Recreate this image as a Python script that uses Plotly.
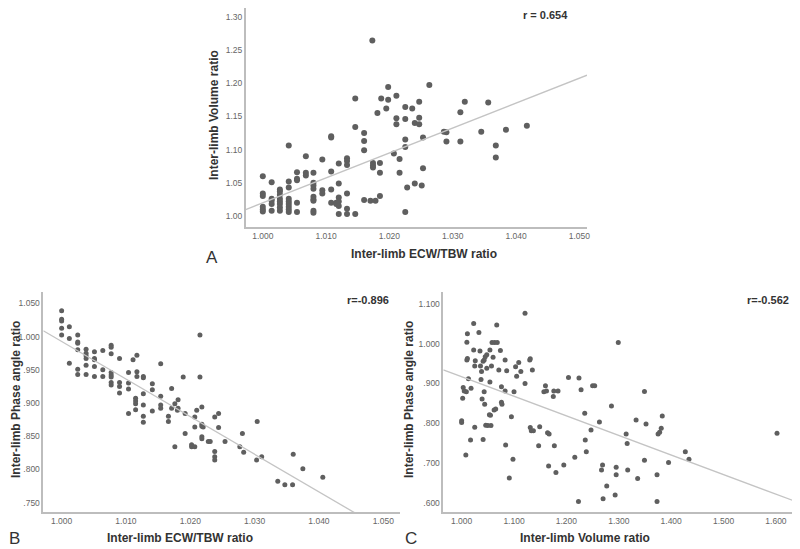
import numpy as np
import plotly.graph_objects as go

# Panel A: Inter-limb ECW/TBW ratio vs Inter-limb Volume ratio
a_ecw = [1.000, 1.000, 1.000, 1.000, 1.000, 1.000,
         1.0014, 1.0014, 1.0014, 1.0014, 1.0014,
         1.0027, 1.0027, 1.0027, 1.0027, 1.0027, 1.0027, 1.0027, 1.0027,
         1.0041, 1.0041, 1.0041, 1.0041, 1.0041, 1.0041, 1.0041, 1.0041, 1.0041,
         1.0054, 1.0054, 1.0054, 1.0054, 1.0054,
         1.0068, 1.0068, 1.0068,
         1.008, 1.008, 1.008, 1.008, 1.008, 1.008, 1.008, 1.008, 1.008,
         1.0094, 1.0094, 1.0094,
         1.0108, 1.0108, 1.0108, 1.0108, 1.0108,
         1.0116, 1.0116,
         1.012, 1.012, 1.012, 1.012, 1.012, 1.012,
         1.0133, 1.0133, 1.0133, 1.0133, 1.0133, 1.0133,
         1.0146, 1.0146, 1.0146,
         1.016, 1.016, 1.016, 1.016,
         1.017, 1.0174, 1.0174, 1.0174, 1.0173,
         1.0178, 1.0181, 1.0185, 1.0185, 1.0185, 1.0187,
         1.0195, 1.0198, 1.0198, 1.0207, 1.0211, 1.0211, 1.0211,
         1.0216, 1.0216, 1.0225, 1.0225, 1.0225, 1.0225, 1.0225, 1.0228,
         1.0236, 1.024, 1.024, 1.0247, 1.0247, 1.0247, 1.0251, 1.0253, 1.0253,
         1.0263, 1.0286, 1.029, 1.029, 1.0312, 1.0312, 1.0319, 1.0345,
         1.0356, 1.0368, 1.0368, 1.0384, 1.0417]
a_vol = [1.060, 1.034, 1.030, 1.014, 1.010, 1.007,
         1.051, 1.026, 1.023, 1.018, 1.008,
         1.040, 1.037, 1.032, 1.026, 1.022, 1.018, 1.013, 1.008,
         1.106, 1.052, 1.043, 1.026, 1.022, 1.018, 1.014, 1.010, 1.006,
         1.066, 1.056, 1.054, 1.020, 1.006,
         1.090, 1.065, 1.061,
         1.065, 1.050, 1.046, 1.041, 1.029, 1.025, 1.023, 1.008, 1.005,
         1.085, 1.039, 1.034,
         1.120, 1.118, 1.067, 1.040, 1.020,
         1.020, 1.018,
         1.079, 1.049, 1.028, 1.022, 1.015, 1.003,
         1.087, 1.083, 1.077, 1.034, 1.011, 1.003,
         1.177, 1.134, 1.003,
         1.125, 1.113, 1.099, 1.024,
         1.023, 1.080, 1.076, 1.073, 1.264,
         1.023, 1.155, 1.080, 1.065, 1.030, 1.177,
         1.162, 1.194, 1.175, 1.094, 1.181, 1.138, 1.147,
         1.086, 1.065, 1.164, 1.146, 1.115, 1.104, 1.006, 1.043,
         1.162, 1.140, 1.049, 1.172, 1.148, 1.138, 1.046, 1.118, 1.072,
         1.197, 1.127, 1.126, 1.112, 1.156, 1.112, 1.172, 1.127,
         1.171, 1.106, 1.088, 1.130, 1.136]

# Panel B: Inter-limb ECW/TBW ratio vs Inter-limb Phase angle ratio
b_ecw = [1.000, 1.000, 1.000, 1.000, 1.000,
         1.0012, 1.0012, 1.0012,
         1.0025, 1.0025, 1.0025, 1.0025, 1.0025, 1.0025,
         1.0038, 1.0038, 1.0038, 1.0038, 1.0038, 1.0038,
         1.0051, 1.0051, 1.0051, 1.0051, 1.0051,
         1.0064, 1.0064, 1.0064,
         1.0077, 1.0077, 1.0077, 1.0077, 1.0077, 1.0077, 1.0077, 1.0077,
         1.009, 1.009, 1.009, 1.009,
         1.0104, 1.0104, 1.0104, 1.0104, 1.0111,
         1.0115, 1.0115, 1.0115, 1.0115,
         1.0117, 1.0117, 1.0117,
         1.0127, 1.0127, 1.0127, 1.0127, 1.0127, 1.0127,
         1.0141, 1.0141, 1.0141,
         1.0154, 1.0154, 1.0154, 1.0154,
         1.0166, 1.0166, 1.0171, 1.0171, 1.0176, 1.0176,
         1.018, 1.0181, 1.0181, 1.0189, 1.0192, 1.0192,
         1.0202, 1.0202, 1.0207, 1.0207, 1.0207, 1.021,
         1.0215, 1.0215, 1.0218, 1.0218, 1.0218, 1.0218, 1.0218,
         1.022, 1.0228, 1.0231, 1.0238, 1.0238, 1.0238, 1.0238,
         1.0244, 1.0244, 1.0254, 1.0277, 1.0281, 1.0283, 1.0303, 1.0304,
         1.0311, 1.0336, 1.0347, 1.0359, 1.036, 1.0375, 1.0406]
b_pha = [1.039, 1.026, 1.0235, 1.0125, 1.0025,
         1.015, 0.997, 0.960,
         1.0025, 0.992, 0.990, 0.980, 0.951, 0.943,
         0.981, 0.975, 0.971, 0.967, 0.957, 0.943,
         0.977, 0.967, 0.965, 0.955, 0.940,
         0.979, 0.950, 0.940,
         0.987, 0.984, 0.974, 0.946, 0.942, 0.939, 0.931, 0.927,
         0.967, 0.931, 0.925, 0.915,
         0.946, 0.921, 0.930, 0.884, 0.965,
         0.907, 0.903, 0.899, 0.890,
         0.972, 0.947, 0.940,
         0.940, 0.938, 0.914, 0.897, 0.880, 0.871,
         0.929, 0.920, 0.888,
         0.959, 0.910, 0.897, 0.892,
         0.880, 0.872, 0.922, 0.892, 0.899, 0.834,
         0.889, 0.905, 0.892, 0.939, 0.884, 0.854,
         0.837, 0.834, 0.879, 0.864, 0.834, 0.889,
         1.0025, 0.939, 0.894, 0.868, 0.865, 0.849, 0.846,
         0.864, 0.842, 0.842, 0.879, 0.827, 0.819, 0.814,
         0.884, 0.863, 0.842, 0.834, 0.854, 0.826, 0.814, 0.872,
         0.819, 0.782, 0.777, 0.777, 0.823, 0.801, 0.788]

# Panel C: Inter-limb Volume ratio vs Inter-limb Phase angle ratio
c_vol = [1.000, 1.000, 1.002, 1.003, 1.005, 1.008, 1.009, 1.010, 1.011, 1.010,
         1.011, 1.013, 1.017, 1.018, 1.023, 1.023, 1.025, 1.025, 1.026, 1.033,
         1.035, 1.036, 1.037, 1.038, 1.039, 1.041, 1.041, 1.043, 1.043, 1.044,
         1.045, 1.046, 1.048, 1.048, 1.050, 1.053, 1.054, 1.054, 1.055, 1.056,
         1.057, 1.058, 1.060, 1.062, 1.063, 1.065, 1.067, 1.068, 1.071, 1.074,
         1.076, 1.076, 1.077, 1.083, 1.083, 1.084, 1.086, 1.091, 1.095, 1.098,
         1.100, 1.103, 1.105, 1.109, 1.113, 1.121, 1.121, 1.130, 1.131, 1.131,
         1.133, 1.135, 1.137, 1.147, 1.149, 1.157, 1.160, 1.162, 1.164, 1.166,
         1.167, 1.175, 1.176, 1.177, 1.180, 1.184, 1.195, 1.204, 1.216, 1.224,
         1.223, 1.228, 1.235, 1.236, 1.238, 1.247, 1.250, 1.254, 1.263, 1.267,
         1.269, 1.270, 1.277, 1.286, 1.293, 1.295, 1.295, 1.299, 1.314, 1.316,
         1.317, 1.336, 1.333, 1.349, 1.349, 1.352, 1.373, 1.373, 1.375, 1.378,
         1.381, 1.383, 1.395, 1.427, 1.434, 1.602]
c_pha = [0.806, 0.802, 0.863, 0.890, 0.881, 0.720, 0.879, 1.004, 1.025, 0.959,
         0.963, 0.912, 0.758, 0.888, 1.051, 0.984, 0.790, 0.944, 0.957, 1.028,
         0.982, 0.944, 0.910, 0.930, 0.861, 0.956, 0.759, 0.959, 0.879, 0.848,
         0.967, 0.795, 0.938, 0.972, 0.794, 0.821, 0.984, 0.904, 0.820, 0.794,
         0.944, 1.003, 0.966, 0.833, 1.003, 0.836, 1.047, 1.003, 0.934, 0.983,
         0.892, 0.853, 0.848, 0.959, 0.881, 0.745, 0.932, 0.662, 0.816, 0.709,
         0.879, 0.942, 0.918, 0.953, 0.930, 1.077, 0.900, 0.959, 0.789, 0.962,
         0.781, 0.934, 0.781, 0.743, 0.791, 0.879, 0.894, 0.881, 0.776, 0.692,
         0.773, 0.867, 0.881, 0.743, 0.676, 0.881, 0.695, 0.915, 0.714, 0.914,
         0.603, 0.884, 0.825, 0.758, 0.728, 0.783, 0.894, 0.894, 0.803, 0.682,
         0.695, 0.610, 0.642, 0.843, 0.619, 0.689, 0.670, 1.003, 0.773, 0.749,
         0.682, 0.661, 0.808, 0.880, 0.707, 0.798, 0.670, 0.603, 0.773, 0.777,
         0.787, 0.818, 0.701, 0.728, 0.709, 0.775]

r_labels = ["r = 0.654", "r=-0.896", "r=-0.562"]

a_xticks = [1.000, 1.010, 1.020, 1.030, 1.040, 1.050]
a_yticks = [1.00, 1.05, 1.10, 1.15, 1.20, 1.25, 1.30]
b_yticks = [0.750, 0.800, 0.850, 0.900, 0.950, 1.000, 1.050]
c_xticks = [1.000, 1.100, 1.200, 1.300, 1.400, 1.500, 1.600]
c_yticks = [0.600, 0.700, 0.800, 0.900, 1.000, 1.100]


def spss_label(v, nd):
    s = f"{v:.{nd}f}"
    return s[1:] if s.startswith("0") else s


# page body adds an 8px offset; place things by target pixel
W, H, OFF = 800, 549, 8


def px(s):
    return (s - OFF) / W


def py(s):
    return 1 - (s - OFF) / H


DOT = "#5f5f5f"
FIT = "#c4c4c4"
AXIS = "#bdbdbd"
FONT = "Liberation Sans, Arial, sans-serif"

fig = go.Figure()

panels = [
    (a_ecw, a_vol, "x", "y", [0.9973, 1.0512], 6),
    (b_ecw, b_pha, "x2", "y2", [0.99715, 1.0526], 5),
    (c_vol, c_pha, "x3", "y3", [0.965, 1.644], 5),
]
for xs, ys, xa, ya, xr, ms in panels:
    fig.add_trace(go.Scatter(x=xs, y=ys, mode="markers", xaxis=xa, yaxis=ya,
                             marker=dict(size=ms, color=DOT), showlegend=False))
    k, c = np.polyfit(xs, ys, 1)
    fx = np.array(xr)
    fig.add_trace(go.Scatter(x=fx, y=k * fx + c, mode="lines", xaxis=xa, yaxis=ya,
                             line=dict(color=FIT, width=1.3), showlegend=False))


def ax(domain, rng, ticks, nd, anchor):
    return dict(domain=domain, range=rng, anchor=anchor, tickvals=ticks,
                ticktext=[spss_label(t, nd) for t in ticks], automargin=False,
                showgrid=False, zeroline=False, showline=True, linecolor=AXIS,
                linewidth=1.5, ticks="", tickfont=dict(size=8.5, color="#666", family=FONT))


fig.update_layout(
    width=W, height=H, paper_bgcolor="white", plot_bgcolor="white",
    margin=dict(l=0, r=0, t=0, b=0, autoexpand=False),
    xaxis=ax([px(245.7), px(587)], [0.9973, 1.0512], a_xticks, 3, "y"),
    yaxis=ax([py(226.7), 1.0], [0.984, 1.313], a_yticks, 2, "x"),
    xaxis2=ax([px(43.3), px(400)], [0.99715, 1.0526], a_xticks, 3, "y2"),
    yaxis2=ax([py(512.3), py(291.7)], [0.7354, 1.0676], b_yticks, 3, "x2"),
    xaxis3=ax([px(443.3), px(799)], [0.965, 1.644], c_xticks, 3, "y3"),
    yaxis3=ax([py(512.3), py(291.7)], [0.5757, 1.131], c_yticks, 3, "x3"),
)

notes = [
    (424, 254, "<b>Inter-limb ECW/TBW ratio</b>", 0, 12),
    (214, 115, "<b>Inter-limb Volume ratio</b>", -90, 12),
    (180, 538, "<b>Inter-limb ECW/TBW ratio</b>", 0, 12),
    (16, 400, "<b>Inter-limb Phase angle ratio</b>", -90, 12),
    (585, 538, "<b>Inter-limb Volume ratio</b>", 0, 12),
    (409, 400, "<b>Inter-limb Phase angle ratio</b>", -90, 12),
    (545, 15, "<b>" + r_labels[0] + "</b>", 0, 11),
    (368, 300, "<b>" + r_labels[1] + "</b>", 0, 11),
    (768, 300, "<b>" + r_labels[2] + "</b>", 0, 11),
    (212, 257, "A", 0, 17),
    (14, 538, "B", 0, 17),
    (411, 538, "C", 0, 17),
]
for sx, sy, t, ang, sz in notes:
    fig.add_annotation(x=px(sx), y=py(sy), xref="paper", yref="paper", text=t,
                       showarrow=False, textangle=ang, xanchor="center", yanchor="middle",
                       font=dict(size=sz, color="#333", family=FONT))

fig.write_html("out.html")
